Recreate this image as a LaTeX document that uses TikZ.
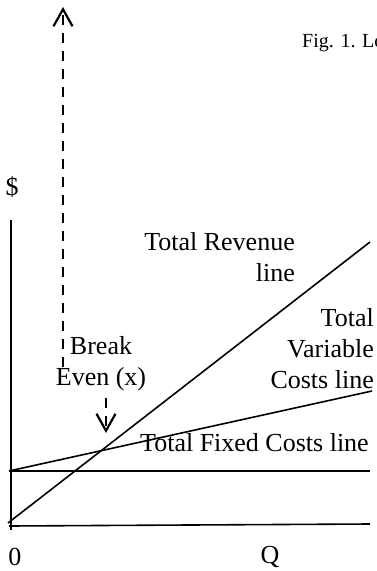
\documentclass[tikz,border=0pt]{standalone}
\usepackage{fontspec}
\setmainfont{Liberation Serif}
\usetikzlibrary{arrows.meta}

\begin{document}
\begin{tikzpicture}[x=1pt, y=-1pt]
      \tikzset{curve/.style={line width=1.6pt},
               guide/.style={line width=2.2pt, dash pattern=on 10pt off 8pt, -{Straight Barb[length=17pt, width=19pt, line width=2.2pt]}},
               lbl/.style={inner sep=0pt, font=\fontsize{26}{31}\selectfont}}

      \useasboundingbox (0,0) rectangle (377,571);

      \coordinate (ytop) at (11,220);
      \coordinate (ybot) at (11,530);
      \coordinate (xl) at (9,526);
      \coordinate (xr) at (370,524);
      \coordinate (fl) at (9,471);
      \coordinate (fr) at (370,471);
      \coordinate (vr) at (372,391);
      \coordinate (rl) at (8,523);
      \coordinate (rr) at (370,242);
      \coordinate (up0) at (63,367);
      \coordinate (up1) at (63,7);
      \coordinate (be0) at (106,398);
      \coordinate (be1) at (106,433);

      \node[inner sep=0pt, anchor=base west, font=\fontsize{20}{24}\selectfont] (fig) at (302,47) {Fig. 1. Lo};
      \node[lbl] (dollar) at (12,187) {\$};
      \node[lbl] (zero) at (15,557) {0};
      \node[lbl] (q) at (270,557) {Q};
      \node[lbl, align=right, anchor=east] (revenue) at (295,257) {Total Revenue\\line};
      \node[lbl, align=right, anchor=east] (variable) at (374,349) {Total\\Variable\\Costs line};
      \node[lbl, align=center] (breakeven) at (101,364) {Break\\Even (x)};
      \node[lbl, anchor=west] (fixed) at (140,443) {Total Fixed Costs line};

      \draw[curve] (ytop) -- (ybot);
      \draw[curve] (xl) -- (xr);
      \draw[curve] (fl) -- (fr);
      \draw[curve] (fl) -- (vr);
      \draw[curve] (rl) -- (rr);
      \draw[guide] (up0) -- (up1);
      \draw[guide] (be0) -- (be1);
\end{tikzpicture}
\end{document}
